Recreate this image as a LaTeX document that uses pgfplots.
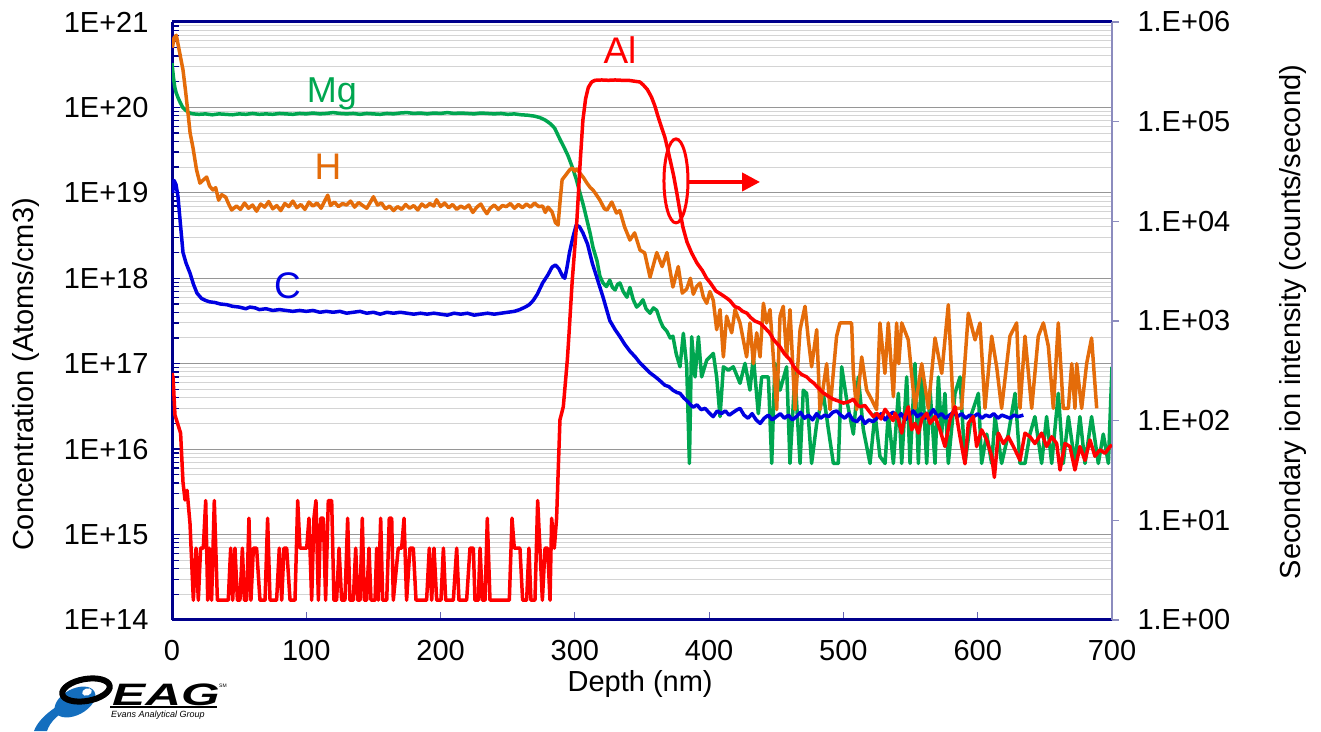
\documentclass[border=0pt]{standalone}
\usepackage{pgfplots}
\pgfplotsset{compat=1.18}
\usetikzlibrary{arrows.meta}
\usepackage{fontspec}
\setmainfont{Liberation Sans}
\definecolor{mgcol}{RGB}{0,166,80}
\definecolor{hcol}{RGB}{228,108,10}
\definecolor{ccol}{RGB}{0,0,225}
\definecolor{alcol}{RGB}{255,0,0}
\definecolor{navy}{RGB}{0,0,140}
\definecolor{rframe}{RGB}{140,140,190}
\definecolor{xtickc}{RGB}{100,100,180}
\definecolor{gmaj}{RGB}{150,150,150}
\definecolor{gmin}{RGB}{212,212,212}
\definecolor{eagblue}{RGB}{20,110,190}
\begin{document}
\begin{tikzpicture}[x=1pt,y=1pt]
\path[use as bounding box] (0,0) rectangle (1321,731);
% left axis: concentrations
\begin{axis}[
  at={(172pt,111pt)}, anchor=south west, scale only axis,
  width=940pt, height=598pt, xmin=0, xmax=700,
  ymode=log, ymin=1e14, ymax=1e21,
  clip mode=individual,
  tick label style={font=\fontsize{29}{34}\selectfont},
  label style={font=\fontsize{29}{34}\selectfont},
  axis x line*=bottom, axis y line*=left,
  axis line style={navy, line width=3pt},
  xtick={0,100,200,300,400,500,600,700},
  xticklabels={0,100,200,300,400,500,600,700},
  xtick style={xtickc, line width=1pt},
  ytick={1e14,1e15,1e16,1e17,1e18,1e19,1e20,1e21},
  yticklabels={1E+14,1E+15,1E+16,1E+17,1E+18,1E+19,1E+20,1E+21},
  minor ytick={2e14,3e14,4e14,5e14,6e14,7e14,8e14,9e14,
    2e15,3e15,4e15,5e15,6e15,7e15,8e15,9e15,
    2e16,3e16,4e16,5e16,6e16,7e16,8e16,9e16,
    2e17,3e17,4e17,5e17,6e17,7e17,8e17,9e17,
    2e18,3e18,4e18,5e18,6e18,7e18,8e18,9e18,
    2e19,3e19,4e19,5e19,6e19,7e19,8e19,9e19,
    2e20,3e20,4e20,5e20,6e20,7e20,8e20,9e20},
  ytick style={navy, line width=1.3pt},
  tick align=inside,
  major tick length=8pt, minor tick length=7pt,
  ymajorgrids, yminorgrids,
  major grid style={gmaj, line width=1.2pt},
  minor grid style={gmin, line width=1pt},
  xticklabel style={yshift=-17pt},
  yticklabel style={xshift=-20pt},
  xlabel={Depth (nm)},
  xlabel style={at={(rel axis cs:0.498,-0.107)}, anchor=center},
  ylabel={Concentration (Atoms/cm3)},
  ylabel style={at={(rel axis cs:-0.1553,0.4105)}, anchor=center},
]
% Mg
\addplot[mgcol, line width=3.5pt, line join=round, mark=none] coordinates {
(0,3.3e20)(1,2.3e20)(2,1.75e20)(3,1.5e20)(4.5,1.3e20)(6,1.15e20)(8,1.0e20)(10,9.3e19)(13,8.6e19)(16,8.4e19)
(20,8.3e19)(25,8.4e19)(30,8.2e19)(35,8.4e19)(40,8.3e19)(45,8.2e19)(50,8.4e19)(55,8.3e19)(60,8.5e19)(65,8.3e19)
(70,8.4e19)(75,8.3e19)(80,8.5e19)(85,8.4e19)(90,8.3e19)(95,8.5e19)(100,8.4e19)(105,8.6e19)(110,8.4e19)(115,8.5e19)
(120,8.7e19)(125,8.5e19)(130,8.4e19)(135,8.5e19)(140,8.3e19)(145,8.5e19)(150,8.4e19)(155,8.3e19)(160,8.5e19)(165,8.4e19)
(170,8.6e19)(175,8.7e19)(180,8.5e19)(185,8.6e19)(190,8.4e19)(195,8.6e19)(200,8.5e19)(205,8.7e19)(210,8.5e19)(215,8.6e19)
(220,8.5e19)(225,8.4e19)(230,8.6e19)(235,8.5e19)(240,8.4e19)(245,8.5e19)(250,8.3e19)(255,8.4e19)(260,8.2e19)(265,8.1e19)
(270,7.9e19)(274,7.6e19)(278,7.1e19)(282,6.4e19)(285,5.7e19)(289,4.2e19)(292,3.4e19)(295,2.7e19)(298.6,1.9e19)(301,1.45e19)
(303.8,1.0e19)(306.5,7.0e18)(309,4.8e18)(311.5,3.3e18)(313.5,2.3e18)(316.5,1.6e18)(318.7,1.05e18)(321,8.8e17)(323.5,8.0e17)(326,9.5e17)
(328,7.8e17)(330,7.3e17)(331.8,8.5e17)(333.6,8.8e17)(336,7.0e17)(338.8,6.0e17)(341,7.8e17)(343.5,5.6e17)(346,4.6e17)(348.5,5.0e17)
(350.7,5.6e17)(353,4.4e17)(356,3.9e17)(358.5,4.5e17)(361,4.2e17)(363.5,3.2e17)(365.6,2.7e17)(368.5,2.4e17)(371,2.0e17)(373,2.1e17)
(375.5,1.3e17)(378.3,9.2e16)(380.8,2.27e17)(383.3,9.2e16)(385.3,6.8e15)(387.0,2.07e17)(389.5,7.0e16)(392.0,2.07e17)(394.4,7.0e16)(398.2,1.1e17)
(403.1,1.32e17)(405.6,7.0e16)(408.1,2.4e16)(410.6,9.2e16)(414.3,8.4e16)(418.0,9.2e16)(423.0,5.9e16)(426.7,1.01e17)(430.4,4.9e16)(432.9,1.21e17)
(436.6,2.6e16)(439.1,7.0e16)(444.1,7.0e16)(446.6,6.8e15)(449.0,1.01e17)(452.8,4.9e16)(457.7,9.2e16)(460.2,6.8e15)(463.9,7.7e16)(467.7,6.8e15)
(470.1,4.9e16)(472.6,4.5e16)(476.3,6.8e15)(480.1,2.0e16)(485.0,4.5e16)(488.8,1.7e16)(492.5,6.8e15)(496.2,6.8e15)(498.7,9.2e16)(502.4,3.8e16)
(507.4,1.5e16)(511.1,7.0e16)(514.8,1.7e16)(519.8,6.8e15)(523.5,2.6e16)(527.2,8.2e15)(531.0,6.8e15)(533.4,2.6e16)(537.2,6.8e15)(540.9,4.5e16)
(543.4,6.8e15)(547.1,7.0e16)(549.6,6.8e15)(553.3,1.01e17)(555.8,6.8e15)(558.3,9.2e16)(562.0,6.8e15)(564.5,4.9e16)(568.2,6.8e15)(570.7,7.0e16)
(573.1,1.5e16)(575.6,4.5e16)(578.1,6.8e15)(583.1,4.5e16)(586.8,7.0e16)(590.5,6.8e15)(595.5,2.6e16)(600.5,4.5e16)(602.9,6.8e15)(606.7,1.5e16)
(610.4,6.8e15)(612.9,2.4e16)(617.8,6.8e15)(622.8,1.5e16)(627.8,4.5e16)(631.5,6.8e15)(635.2,6.8e15)(638.9,1.5e16)(642.6,2.4e16)(647.6,6.8e15)
(651.3,2.4e16)(655.1,6.8e15)(660.0,4.5e16)(663.7,6.8e15)(667.5,2.4e16)(672.4,6.8e15)(676.1,2.4e16)(679.9,6.8e15)(684.8,2.4e16)(689.8,6.8e15)
(693.5,1.5e16)(697.3,6.8e15)(700,9.2e16)
};
% H
\addplot[hcol, line width=3.5pt, line join=round, mark=none] coordinates {
(0.3,5.0e20)(1.5,6.5e20)(3.2,7.0e20)(5,5.0e20)(8.2,2.74e20)(10,1.6e20)(11.9,8.6e19)(13.5,5.0e19)(15.6,3.4e19)(18.3,1.85e19)
(20.8,1.3e19)(23,1.4e19)(25.8,1.53e19)(28,1.2e19)(30.5,1.08e19)(32.5,1.15e19)(34.7,8.2e18)(37,9.5e18)(40,8.9e18)(42,7.5e18)
(44.4,6.3e18)(48,7.0e18)(51,6.4e18)(54,7.6e18)(57,6.6e18)(60,7.2e18)(63,6.1e18)(66,7.4e18)(69,6.8e18)(72,7.9e18)
(75,6.5e18)(78,7.1e18)(81,6.2e18)(84,7.5e18)(87,6.9e18)(90,8.0e18)(93,6.7e18)(96,7.3e18)(99,6.4e18)(102,7.8e18)
(105,7.0e18)(108,7.6e18)(111,6.6e18)(114,8.2e18)(116,9.4e18)(118,7.1e18)(121,7.8e18)(124,6.9e18)(127,7.5e18)(130,7.2e18)
(133,8.0e18)(136,6.8e18)(139,7.7e18)(142,7.1e18)(145,6.6e18)(148,7.9e18)(150,9.0e18)(153,7.2e18)(156,7.6e18)(159,6.5e18)
(162,7.0e18)(165,6.2e18)(168,6.9e18)(171,6.4e18)(174,7.3e18)(177,6.6e18)(180,7.1e18)(183,6.3e18)(186,7.4e18)(189,6.8e18)
(192,7.5e18)(195,7.0e18)(197,8.3e18)(200,6.9e18)(203,7.6e18)(206,6.7e18)(209,7.3e18)(212,6.4e18)(215,7.0e18)(218,6.6e18)
(221,7.2e18)(224,5.9e18)(227,6.8e18)(230,7.4e18)(232,6.5e18)(234.5,5.7e18)(237,6.6e18)(240,7.2e18)(243,6.4e18)(246,7.1e18)
(249,6.9e18)(252,7.5e18)(255,6.6e18)(258,7.3e18)(261,6.7e18)(264,7.4e18)(267,6.8e18)(270,7.6e18)(273,6.9e18)(276,7.0e18)
(278,5.9e18)(280,6.8e18)(283,6.0e18)(285.5,4.5e18)(287.5,4.2e18)(289,8.0e18)(290.5,1.42e19)(293,1.6e19)(296,1.85e19)(298,1.95e19)
(300,1.8e19)(301.5,1.9e19)(303.8,1.7e19)(306.5,1.5e19)(309,1.3e19)(311.5,1.15e19)(313.5,1.08e19)(316,9.5e18)(318.7,8.2e18)(322,6.5e18)
(324,6.3e18)(327.5,7.8e18)(331,5.8e18)(333.5,6.2e18)(337,4.0e18)(341,2.8e18)(344.5,3.4e18)(348.5,2.14e18)(352,1.98e18)(356,1.03e18)
(361,2.0e18)(365,1.37e18)(368.6,2.0e18)(373,7.9e17)(377,1.37e18)(380,6.7e17)(383.3,7.5e17)(386,1.0e18)(388.2,6.5e17)(390.7,8.0e17)
(393.2,8.8e17)(395.7,6.0e17)(398.2,5.1e17)(400.6,7.0e17)(403.1,5.5e17)(405.6,2.5e17)(408.1,4.3e17)(410.6,1.2e17)(413.0,3.6e17)(416.8,2.3e17)
(419.3,4.3e17)(423.0,3.0e17)(427.9,1.2e17)(430.4,3.0e17)(432.9,1.0e17)(435.4,2.3e17)(437.9,1.2e17)(440.4,5.1e17)(442.8,3.0e17)(445.3,4.3e17)
(447.8,1.2e17)(450.3,2.9e16)(452.8,3.6e17)(455.2,4.7e17)(457.7,1.2e17)(460.2,4.3e17)(463.9,2.9e16)(467.7,2.5e17)(471.4,4.7e17)(473.9,1.9e17)
(476.3,9.2e16)(480.1,2.5e17)(482.5,2.9e16)(487.5,1.0e17)(490.0,2.9e16)(494.9,2.1e17)(497.4,3.0e17)(502.4,3.0e17)(506.1,3.0e17)(507.4,7.7e16)
(509.8,2.9e16)(513.6,1.2e17)(517.3,4.9e16)(521.0,3.8e16)(524.7,2.9e16)(527.2,3.0e17)(530.9,7.7e16)(533.4,3.0e17)(537.2,4.1e16)(539.6,3.0e17)
(541.2,1.0e17)(543.4,3.0e17)(548.3,1.9e17)(553.3,3.0e16)(558.3,1.0e17)(563.2,3.0e16)(568.2,2.0e17)(573.2,7.7e16)(578.1,4.9e17)(581.8,3.0e16)
(588.0,3.0e16)(593.0,3.9e17)(598.0,1.9e17)(601.7,3.0e17)(605.4,3.0e16)(610.4,2.1e17)(614.1,9.2e16)(617.8,3.0e16)(624.0,2.1e17)(629.0,3.0e17)
(631.5,3.0e16)(635.2,2.1e17)(640.2,3.0e16)(645.1,2.1e17)(648.9,3.0e17)(652.6,1.6e17)(656.3,3.0e16)(660.0,3.0e17)(663.7,3.0e16)(667.5,3.0e16)
(670.0,1.0e17)(672.4,3.0e16)(673.7,1.0e17)(677.4,3.0e16)(681.1,1.0e17)(684.8,2.0e17)(688.6,3.0e16)
};
% C
\addplot[ccol, line width=3.5pt, line join=round, mark=none] coordinates {
(0.5,1.0e19)(1.5,1.4e19)(3,1.25e19)(4.5,8.9e18)(6,4.8e18)(8.2,2.0e18)(10.5,1.5e18)(13.4,1.15e18)(16,8.5e17)(18.6,6.7e17)
(22,5.8e17)(25,5.5e17)(28,5.3e17)(32,5.2e17)(36,5.0e17)(41,4.9e17)(45,4.7e17)(50,4.6e17)(55,4.4e17)(58,4.6e17)
(62,4.5e17)(65,4.3e17)(70,4.4e17)(75,4.2e17)(80,4.3e17)(85,4.2e17)(90,4.1e17)(95,4.2e17)(100,4.1e17)(105,4.2e17)
(110,4.0e17)(115,4.1e17)(120,4.0e17)(125,4.1e17)(130,3.9e17)(135,4.0e17)(140,4.1e17)(145,3.9e17)(150,4.0e17)(155,3.8e17)
(160,4.0e17)(165,3.9e17)(170,4.0e17)(175,3.9e17)(180,3.8e17)(185,3.9e17)(190,3.8e17)(195,3.9e17)(200,3.8e17)(205,3.7e17)
(210,3.9e17)(215,3.8e17)(220,3.9e17)(225,3.7e17)(230,3.8e17)(235,3.9e17)(240,3.8e17)(245,3.9e17)(250,4.0e17)(255,4.1e17)
(259,4.3e17)(263,4.6e17)(266,4.9e17)(269,5.5e17)(272,6.5e17)(276,8.8e17)(280,1.1e18)(283,1.35e18)(285.5,1.43e18)(288,1.3e18)
(291,1.05e18)(292.5,1.0e18)(294,1.3e18)(296,2.0e18)(298.5,3.0e18)(301,4.2e18)(303.5,4.0e18)(306,3.4e18)(309.5,2.5e18)(313,1.5e18)
(317,9.5e17)(321,6.0e17)(326,3.2e17)(330,2.5e17)(333.6,2.07e17)(337,1.7e17)(341,1.4e17)(345,1.2e17)(348.5,1.02e17)(352,9.0e16)
(356,7.8e16)(360,7.0e16)(363,6.4e16)(367,5.6e16)(370,5.4e16)(373,4.9e16)(376,4.6e16)(378.3,4.5e16)(381,4.0e16)(384,3.6e16)
(388,3.1e16)(391,3.3e16)(394,2.9e16)(397,3.0e16)(400.6,2.6e16)(403,2.4e16)(406,2.8e16)(409,2.6e16)(412,2.8e16)(415,2.5e16)
(418,2.7e16)(421,2.9e16)(423,3.0e16)(426,2.5e16)(429,2.3e16)(432,2.6e16)(435,2.2e16)(438,2.0e16)(441,2.3e16)(444,2.5e16)
(447,2.2e16)(450,2.4e16)(453,2.6e16)(456,2.3e16)(459,2.5e16)(462,2.2e16)(465,2.4e16)(468,2.7e16)(471,2.3e16)(474,2.5e16)
(477,2.2e16)(480,2.6e16)(483,2.3e16)(486,2.5e16)(489,2.4e16)(492,2.7e16)(495,2.8e16)(498,2.5e16)(501,2.3e16)(504,2.6e16)
(507,2.2e16)(510,2.1e16)(513,2.4e16)(516,2.0e16)(519,2.2e16)(522,2.1e16)(525,2.3e16)(528,2.6e16)(531,2.2e16)(534,2.5e16)
(537,2.7e16)(540,2.3e16)(543,2.6e16)(546,2.2e16)(549,2.5e16)(552,2.8e16)(555,2.4e16)(558,2.6e16)(561,2.3e16)(564,2.5e16)
(567,2.9e16)(570,2.4e16)(573,2.6e16)(576,2.3e16)(579,2.5e16)(582,2.7e16)(585,2.4e16)(588,2.6e16)(591,2.3e16)(594,2.5e16)
(597,2.4e16)(600,2.6e16)(603,2.3e16)(606,2.5e16)(609,2.4e16)(612,2.6e16)(615,2.3e16)(618,2.5e16)(621,2.4e16)(624,2.3e16)
(627,2.5e16)(630,2.4e16)(634,2.5e16)
};
\draw[navy, line width=3pt] (rel axis cs:0,1) -- (rel axis cs:1,1);
\node[anchor=base, text=mgcol, font=\fontsize{36}{40}\selectfont] at (axis cs:119.1,1.13e20) {Mg};
\node[anchor=base, text=hcol, font=\fontsize{37}{40}\selectfont] at (axis cs:116.2,1.414e19) {H};
\node[anchor=base, text=ccol, font=\fontsize{37}{40}\selectfont] at (axis cs:86.0,5.72e17) {C};
\node[anchor=base, text=alcol, font=\fontsize{37}{40}\selectfont] at (axis cs:333.6,3.29e20) {Al};
\draw[alcol, line width=3pt] (axis cs:375.3,1.38e19) ellipse (12pt and 42pt);
\draw[alcol, line width=4pt, -{Triangle[length=18pt,width=18pt]}] (axis cs:384.2,1.34e19) -- (axis cs:437.9,1.34e19);
\end{axis}
% right axis: Al secondary ion intensity
\begin{axis}[
  at={(172pt,111pt)}, anchor=south west, scale only axis,
  width=940pt, height=598pt, xmin=0, xmax=700,
  ymode=log, ymin=1, ymax=1e6,
  clip mode=individual,
  tick label style={font=\fontsize{29}{34}\selectfont},
  label style={font=\fontsize{29}{34}\selectfont},
  hide x axis,
  axis y line*=right,
  axis line style={rframe, line width=2pt},
  ytick={1,10,100,1000,10000,100000,1000000},
  yticklabels={1.E+00,1.E+01,1.E+02,1.E+03,1.E+04,1.E+05,1.E+06},
  tick align=outside, major tick length=7pt, minor tick length=0pt,
  ytick style={rframe, line width=1.5pt},
  minor y tick style={draw=none},
  yticklabel style={anchor=west, xshift=15pt},
  ylabel={Secondary ion intensity (counts/second)},
  ylabel style={at={(rel axis cs:1.1926,0.4983)}, anchor=center},
]
\addplot[alcol, line width=3.5pt, line join=round, mark=none] coordinates {
(0,300)(0.8,270)(2.2,114)(6.4,75)(8.2,24)(9.7,16)(11.2,20)(13.4,9.3)(15.9,1.58)(17.9,5.26)
(19.6,1.58)(21.3,5.26)(23.3,5.26)(25.1,15.8)(26.6,1.58)(27.8,5.26)(29.5,1.58)(31.5,15.8)(33.8,1.58)(41.9,1.58)
(43.7,5.26)(45.2,1.58)(46.9,5.26)(48.7,1.58)(50.6,1.58)(52.4,5.26)(53.9,1.58)(55.6,1.58)(57.3,10.5)(58.8,1.58)
(60.6,5.26)(63.0,5.26)(65.5,1.58)(69.3,1.58)(71.2,10.5)(73.0,1.58)(77.9,1.58)(79.9,5.26)(81.7,1.58)(83.4,5.26)
(85.4,5.26)(87.9,1.58)(91.6,1.58)(93.6,15.8)(95.3,5.26)(100.3,5.26)(102.0,10.5)(104.0,1.58)(105.7,10.5)(107.2,15.8)
(109.0,1.58)(110.7,10.5)(112.7,10.5)(114.4,1.58)(116.4,15.8)(118.9,15.8)(120.6,1.58)(122.6,1.58)(124.4,5.26)(126.3,1.58)
(128.8,1.58)(130.8,10.5)(132.5,1.58)(135.0,1.58)(136.8,5.26)(138.3,1.58)(140.0,1.58)(141.7,10.5)(143.2,1.58)(145.0,1.58)
(146.7,5.26)(148.2,1.58)(151.2,1.58)(152.4,5.26)(153.6,1.58)(155.4,10.5)(156.9,1.58)(159.9,1.58)(161.8,10.5)(163.6,10.5)
(164.8,1.58)(168.5,5.26)(171.0,5.26)(172.8,10.5)(174.7,1.58)(177.2,5.26)(179.7,5.26)(181.7,1.58)(189.6,1.58)(191.6,5.26)
(193.4,1.58)(195.1,5.26)(197.1,1.58)(200.3,1.58)(202.1,5.26)(203.8,1.58)(209.5,1.58)(212.0,5.26)(213.7,1.58)(219.4,1.58)
(221.9,5.26)(224.4,5.26)(225.6,1.58)(228.1,1.58)(229.4,5.26)(231.1,1.58)(233.1,1.58)(234.8,10.5)(236.8,1.58)(251.2,1.58)
(253.2,10.5)(254.9,5.26)(259.1,5.26)(261.1,1.58)(264.1,1.58)(265.8,5.26)(267.3,1.58)(270.3,1.58)(272.3,15.8)(274.0,5.26)
(275.8,1.58)(277.8,5.26)(279.7,5.26)(281.5,1.58)(282.7,10.5)(284.7,5.26)(286.4,10.5)(288.9,102)(291.4,138)(294.4,408)
(295.5,690)(298,2.5e3)(301.5,1.02e4)(304,4.0e4)(306,1.04e5)(308,1.7e5)(310,2.2e5)(312.5,2.5e5)(315,2.6e5)(320,2.62e5)
(325,2.6e5)(330,2.62e5)(335,2.6e5)(340,2.6e5)(344,2.55e5)(348.5,2.5e5)(351,2.33e5)(354,2.1e5)(357,1.77e5)(359.5,1.45e5)
(362,1.12e5)(364.5,8.8e4)(367,7.0e4)(369,5.4e4)(371,4.1e4)(373.5,2.9e4)(376,1.9e4)(378.3,1.25e4)(380.5,8.7e3)(383.5,6.2e3)
(387,4.8e3)(391,3.8e3)(395,3.2e3)(398,2.7e3)(401,2.4e3)(405,2.0e3)(409,1.85e3)(413,1.7e3)(415.5,1.6e3)(419,1.4e3)
(422,1.35e3)(425,1.25e3)(428,1.2e3)(431,1.08e3)(434,1.0e3)(438,950)(441,870)(445,760)(448,650)(452.8,550)
(456,470)(460.2,410)(463,350)(465.2,320)(469,290)(472.6,275)(475,255)(477.6,240)(481,215)(485,190)
(489,175)(492.5,164)(496,158)(500,150)(504,155)(507.4,164)(510,145)(512.3,138)(516,142)(519,125)
(522.3,110)(525,118)(528,104)(531,130)(534,115)(537,100)(538.4,119)(540.9,103)(543.4,75)(545.8,110)
(548.3,138)(550.8,81)(553.3,94)(555.8,75)(558.3,103)(562.0,119)(564.5,94)(568.2,110)(571.9,81)(575.6,55)
(579.4,103)(583.1,138)(586.8,69)(590.5,37)(593.0,94)(596.7,110)(599.2,55)(602.9,81)(606.7,64)(610.4,44)
(612.4,27)(615.3,75)(619.1,59)(622.8,69)(627.8,51)(631.5,40)(635.2,75)(638.9,69)(642.6,59)(647.6,75)
(651.3,55)(655.1,69)(658.8,59)(661.3,32)(665.0,59)(668.7,55)(672.4,32)(676.1,55)(679.9,40)(683.6,64)
(687.3,44)(691.0,51)(694.8,47)(698.5,55)(700,57)
};
\end{axis}
% EAG logo
\fill[eagblue] (56,24) .. controls (44,16) and (37,8) .. (34,0) -- (47,0) .. controls (50,9) and (58,17) .. (68,21) -- cycle;
\fill[eagblue, rotate around={28:(75,29)}] (75,29) ellipse (22 and 13);
\fill[white, rotate around={20:(87,39)}] (87,39) ellipse (5 and 3.5);
\draw[black, line width=6pt, rotate around={10:(86,41)}] (86,41) ellipse (24 and 11);
\node[anchor=base west, inner sep=0pt, font=\fontsize{31}{34}\selectfont\bfseries\itshape] at (112,26) {\scalebox{1.6}[1]{EAG}};
\draw[black, line width=1.5pt] (110,24) -- (217,24);
\node[anchor=base west, inner sep=0pt, font=\fontsize{9}{10}\selectfont\itshape] at (111,14) {Evans Analytical Group};
\node[anchor=base west, inner sep=0pt, font=\fontsize{5}{6}\selectfont] at (219,44) {SM};
\end{tikzpicture}
\end{document}
